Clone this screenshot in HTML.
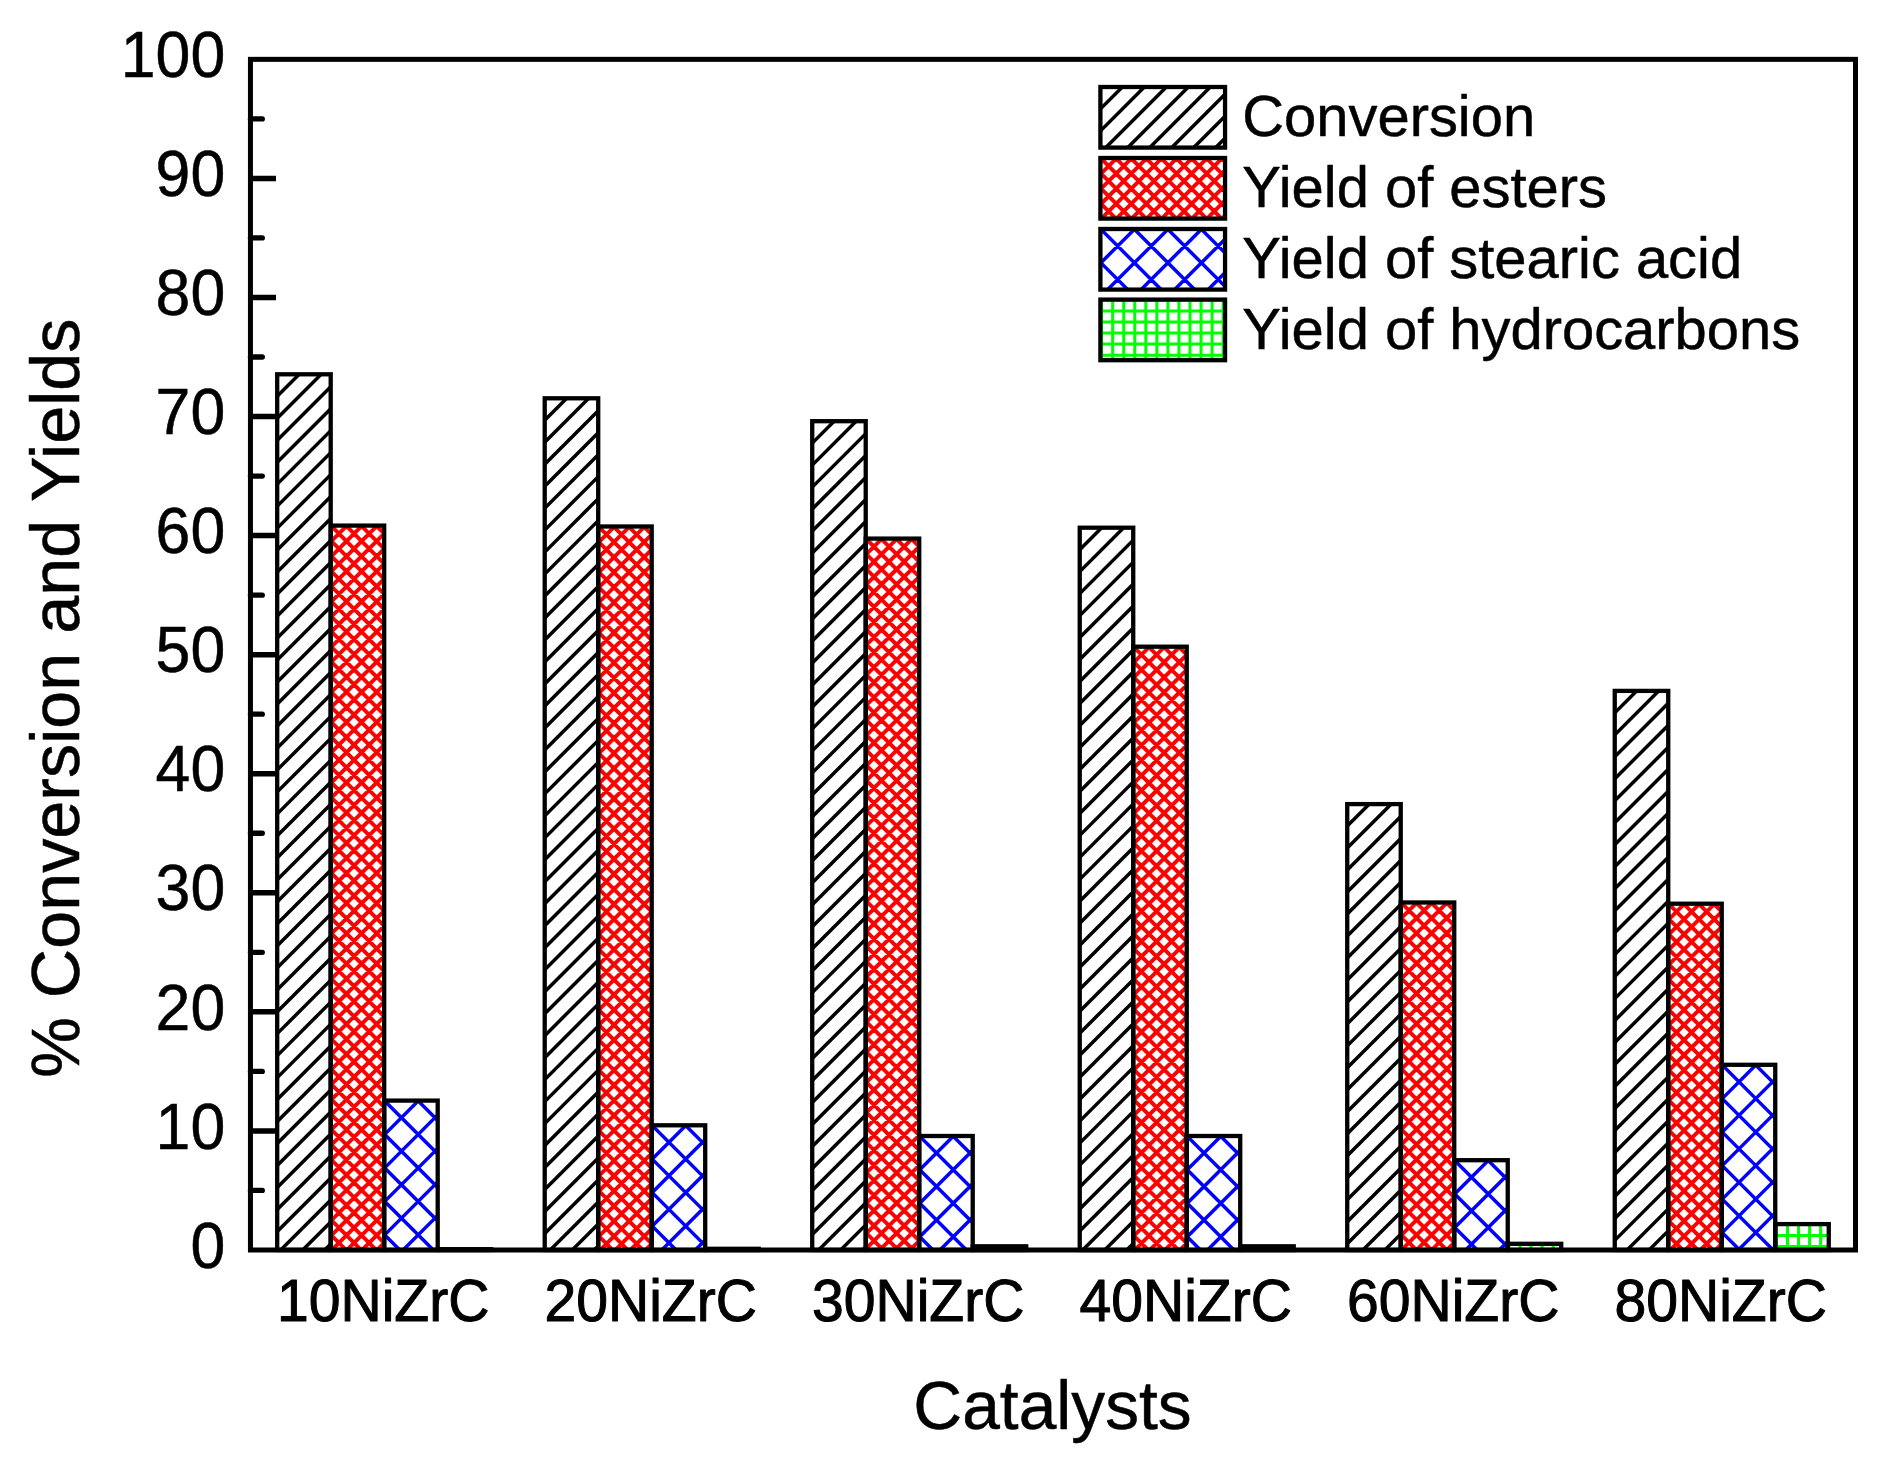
<!DOCTYPE html>
<html lang="en"><head><meta charset="utf-8"><title>Conversion and Yields</title>
<style>html,body{margin:0;padding:0;background:#fff}svg{display:block}</style></head>
<body>
<svg width="1888" height="1477" viewBox="0 0 1888 1477" font-family="'Liberation Sans', sans-serif" fill="#000">
<rect width="1888" height="1477" fill="#fff"/>
<style>text{stroke:#000;stroke-width:0.5px;stroke-linejoin:round}.b{stroke-width:1.0px}</style>
<g><clipPath id="c1"><rect x="277.20" y="374.30" width="53.50" height="875.70"/></clipPath><path clip-path="url(#c1)" d="M271.20 358.32L336.70 292.82M271.20 380.30L336.70 314.80M271.20 402.28L336.70 336.78M271.20 424.26L336.70 358.76M271.20 446.24L336.70 380.74M271.20 468.22L336.70 402.72M271.20 490.20L336.70 424.70M271.20 512.18L336.70 446.68M271.20 534.16L336.70 468.66M271.20 556.14L336.70 490.64M271.20 578.12L336.70 512.62M271.20 600.10L336.70 534.60M271.20 622.08L336.70 556.58M271.20 644.06L336.70 578.56M271.20 666.04L336.70 600.54M271.20 688.02L336.70 622.52M271.20 710.00L336.70 644.50M271.20 731.98L336.70 666.48M271.20 753.96L336.70 688.46M271.20 775.94L336.70 710.44M271.20 797.92L336.70 732.42M271.20 819.90L336.70 754.40M271.20 841.88L336.70 776.38M271.20 863.86L336.70 798.36M271.20 885.84L336.70 820.34M271.20 907.82L336.70 842.32M271.20 929.80L336.70 864.30M271.20 951.78L336.70 886.28M271.20 973.76L336.70 908.26M271.20 995.74L336.70 930.24M271.20 1017.72L336.70 952.22M271.20 1039.70L336.70 974.20M271.20 1061.68L336.70 996.18M271.20 1083.66L336.70 1018.16M271.20 1105.64L336.70 1040.14M271.20 1127.62L336.70 1062.12M271.20 1149.60L336.70 1084.10M271.20 1171.58L336.70 1106.08M271.20 1193.56L336.70 1128.06M271.20 1215.54L336.70 1150.04M271.20 1237.52L336.70 1172.02M271.20 1259.50L336.70 1194.00M271.20 1281.48L336.70 1215.98M271.20 1303.46L336.70 1237.96M271.20 1325.44L336.70 1259.94M271.20 1347.42L336.70 1281.92" stroke="#000" stroke-width="3.50" fill="none"/><clipPath id="c2"><rect x="330.70" y="525.60" width="53.50" height="724.40"/></clipPath><path clip-path="url(#c2)" d="M324.70 502.62L390.20 437.12M324.70 517.71L390.20 452.21M324.70 532.80L390.20 467.30M324.70 547.89L390.20 482.39M324.70 562.98L390.20 497.48M324.70 578.07L390.20 512.57M324.70 593.16L390.20 527.66M324.70 608.25L390.20 542.75M324.70 623.34L390.20 557.84M324.70 638.43L390.20 572.93M324.70 653.52L390.20 588.02M324.70 668.61L390.20 603.11M324.70 683.70L390.20 618.20M324.70 698.79L390.20 633.29M324.70 713.88L390.20 648.38M324.70 728.97L390.20 663.47M324.70 744.06L390.20 678.56M324.70 759.15L390.20 693.65M324.70 774.24L390.20 708.74M324.70 789.33L390.20 723.83M324.70 804.42L390.20 738.92M324.70 819.51L390.20 754.01M324.70 834.60L390.20 769.10M324.70 849.69L390.20 784.19M324.70 864.78L390.20 799.28M324.70 879.87L390.20 814.37M324.70 894.96L390.20 829.46M324.70 910.05L390.20 844.55M324.70 925.14L390.20 859.64M324.70 940.23L390.20 874.73M324.70 955.32L390.20 889.82M324.70 970.41L390.20 904.91M324.70 985.50L390.20 920.00M324.70 1000.59L390.20 935.09M324.70 1015.68L390.20 950.18M324.70 1030.77L390.20 965.27M324.70 1045.86L390.20 980.36M324.70 1060.95L390.20 995.45M324.70 1076.04L390.20 1010.54M324.70 1091.13L390.20 1025.63M324.70 1106.22L390.20 1040.72M324.70 1121.31L390.20 1055.81M324.70 1136.40L390.20 1070.90M324.70 1151.49L390.20 1085.99M324.70 1166.58L390.20 1101.08M324.70 1181.67L390.20 1116.17M324.70 1196.76L390.20 1131.26M324.70 1211.85L390.20 1146.35M324.70 1226.94L390.20 1161.44M324.70 1242.03L390.20 1176.53M324.70 1257.12L390.20 1191.62M324.70 1272.21L390.20 1206.71M324.70 1287.30L390.20 1221.80M324.70 1302.39L390.20 1236.89M324.70 1317.48L390.20 1251.98M324.70 1332.57L390.20 1267.07M324.70 1273.90L390.20 1339.40M324.70 1258.81L390.20 1324.31M324.70 1243.72L390.20 1309.22M324.70 1228.63L390.20 1294.13M324.70 1213.54L390.20 1279.04M324.70 1198.45L390.20 1263.95M324.70 1183.36L390.20 1248.86M324.70 1168.27L390.20 1233.77M324.70 1153.18L390.20 1218.68M324.70 1138.09L390.20 1203.59M324.70 1123.00L390.20 1188.50M324.70 1107.91L390.20 1173.41M324.70 1092.82L390.20 1158.32M324.70 1077.73L390.20 1143.23M324.70 1062.64L390.20 1128.14M324.70 1047.55L390.20 1113.05M324.70 1032.46L390.20 1097.96M324.70 1017.37L390.20 1082.87M324.70 1002.28L390.20 1067.78M324.70 987.19L390.20 1052.69M324.70 972.10L390.20 1037.60M324.70 957.01L390.20 1022.51M324.70 941.92L390.20 1007.42M324.70 926.83L390.20 992.33M324.70 911.74L390.20 977.24M324.70 896.65L390.20 962.15M324.70 881.56L390.20 947.06M324.70 866.47L390.20 931.97M324.70 851.38L390.20 916.88M324.70 836.29L390.20 901.79M324.70 821.20L390.20 886.70M324.70 806.11L390.20 871.61M324.70 791.02L390.20 856.52M324.70 775.93L390.20 841.43M324.70 760.84L390.20 826.34M324.70 745.75L390.20 811.25M324.70 730.66L390.20 796.16M324.70 715.57L390.20 781.07M324.70 700.48L390.20 765.98M324.70 685.39L390.20 750.89M324.70 670.30L390.20 735.80M324.70 655.21L390.20 720.71M324.70 640.12L390.20 705.62M324.70 625.03L390.20 690.53M324.70 609.94L390.20 675.44M324.70 594.85L390.20 660.35M324.70 579.76L390.20 645.26M324.70 564.67L390.20 630.17M324.70 549.58L390.20 615.08M324.70 534.49L390.20 599.99M324.70 519.40L390.20 584.90M324.70 504.31L390.20 569.81M324.70 489.22L390.20 554.72M324.70 474.13L390.20 539.63M324.70 459.04L390.20 524.54M324.70 443.95L390.20 509.45" stroke="#f00" stroke-width="3.90" fill="none"/><clipPath id="c3"><rect x="384.20" y="1100.60" width="53.50" height="149.40"/></clipPath><path clip-path="url(#c3)" d="M378.20 1040.40L443.71 974.90M378.20 1073.90L443.71 1008.40M378.20 1107.40L443.71 1041.90M378.20 1140.90L443.71 1075.40M378.20 1174.40L443.71 1108.90M378.20 1207.90L443.71 1142.40M378.20 1241.40L443.71 1175.90M378.20 1274.90L443.71 1209.40M378.20 1308.40L443.71 1242.90M378.20 1341.90L443.71 1276.40M378.20 1375.40L443.71 1309.90M378.20 1295.40L443.71 1360.90M378.20 1261.90L443.71 1327.40M378.20 1228.40L443.71 1293.90M378.20 1194.90L443.71 1260.40M378.20 1161.40L443.71 1226.90M378.20 1127.90L443.71 1193.40M378.20 1094.40L443.71 1159.90M378.20 1060.90L443.71 1126.40M378.20 1027.40L443.71 1092.90M378.20 993.90L443.71 1059.40" stroke="#00f" stroke-width="3.50" fill="none"/><clipPath id="c4"><rect x="437.71" y="1249.20" width="53.50" height="0.80"/></clipPath><path clip-path="url(#c4)" d="M438.91 1247.20V1252.00M449.96 1247.20V1252.00M461.01 1247.20V1252.00M472.06 1247.20V1252.00M483.11 1247.20V1252.00M494.16 1247.20V1252.00M435.71 1249.50H493.21" stroke="#0f0" stroke-width="3.00" fill="none"/><clipPath id="c5"><rect x="544.71" y="398.30" width="53.50" height="851.70"/></clipPath><path clip-path="url(#c5)" d="M538.71 382.32L604.21 316.82M538.71 404.30L604.21 338.80M538.71 426.28L604.21 360.78M538.71 448.26L604.21 382.76M538.71 470.24L604.21 404.74M538.71 492.22L604.21 426.72M538.71 514.20L604.21 448.70M538.71 536.18L604.21 470.68M538.71 558.16L604.21 492.66M538.71 580.14L604.21 514.64M538.71 602.12L604.21 536.62M538.71 624.10L604.21 558.60M538.71 646.08L604.21 580.58M538.71 668.06L604.21 602.56M538.71 690.04L604.21 624.54M538.71 712.02L604.21 646.52M538.71 734.00L604.21 668.50M538.71 755.98L604.21 690.48M538.71 777.96L604.21 712.46M538.71 799.94L604.21 734.44M538.71 821.92L604.21 756.42M538.71 843.90L604.21 778.40M538.71 865.88L604.21 800.38M538.71 887.86L604.21 822.36M538.71 909.84L604.21 844.34M538.71 931.82L604.21 866.32M538.71 953.80L604.21 888.30M538.71 975.78L604.21 910.28M538.71 997.76L604.21 932.26M538.71 1019.74L604.21 954.24M538.71 1041.72L604.21 976.22M538.71 1063.70L604.21 998.20M538.71 1085.68L604.21 1020.18M538.71 1107.66L604.21 1042.16M538.71 1129.64L604.21 1064.14M538.71 1151.62L604.21 1086.12M538.71 1173.60L604.21 1108.10M538.71 1195.58L604.21 1130.08M538.71 1217.56L604.21 1152.06M538.71 1239.54L604.21 1174.04M538.71 1261.52L604.21 1196.02M538.71 1283.50L604.21 1218.00M538.71 1305.48L604.21 1239.98M538.71 1327.46L604.21 1261.96M538.71 1349.44L604.21 1283.94" stroke="#000" stroke-width="3.50" fill="none"/><clipPath id="c6"><rect x="598.21" y="526.50" width="53.50" height="723.50"/></clipPath><path clip-path="url(#c6)" d="M592.21 503.52L657.71 438.02M592.21 518.61L657.71 453.11M592.21 533.70L657.71 468.20M592.21 548.79L657.71 483.29M592.21 563.88L657.71 498.38M592.21 578.97L657.71 513.47M592.21 594.06L657.71 528.56M592.21 609.15L657.71 543.65M592.21 624.24L657.71 558.74M592.21 639.33L657.71 573.83M592.21 654.42L657.71 588.92M592.21 669.51L657.71 604.01M592.21 684.60L657.71 619.10M592.21 699.69L657.71 634.19M592.21 714.78L657.71 649.28M592.21 729.87L657.71 664.37M592.21 744.96L657.71 679.46M592.21 760.05L657.71 694.55M592.21 775.14L657.71 709.64M592.21 790.23L657.71 724.73M592.21 805.32L657.71 739.82M592.21 820.41L657.71 754.91M592.21 835.50L657.71 770.00M592.21 850.59L657.71 785.09M592.21 865.68L657.71 800.18M592.21 880.77L657.71 815.27M592.21 895.86L657.71 830.36M592.21 910.95L657.71 845.45M592.21 926.04L657.71 860.54M592.21 941.13L657.71 875.63M592.21 956.22L657.71 890.72M592.21 971.31L657.71 905.81M592.21 986.40L657.71 920.90M592.21 1001.49L657.71 935.99M592.21 1016.58L657.71 951.08M592.21 1031.67L657.71 966.17M592.21 1046.76L657.71 981.26M592.21 1061.85L657.71 996.35M592.21 1076.94L657.71 1011.44M592.21 1092.03L657.71 1026.53M592.21 1107.12L657.71 1041.62M592.21 1122.21L657.71 1056.71M592.21 1137.30L657.71 1071.80M592.21 1152.39L657.71 1086.89M592.21 1167.48L657.71 1101.98M592.21 1182.57L657.71 1117.07M592.21 1197.66L657.71 1132.16M592.21 1212.75L657.71 1147.25M592.21 1227.84L657.71 1162.34M592.21 1242.93L657.71 1177.43M592.21 1258.02L657.71 1192.52M592.21 1273.11L657.71 1207.61M592.21 1288.20L657.71 1222.70M592.21 1303.29L657.71 1237.79M592.21 1318.38L657.71 1252.88M592.21 1333.47L657.71 1267.97M592.21 1259.71L657.71 1325.21M592.21 1244.62L657.71 1310.12M592.21 1229.53L657.71 1295.03M592.21 1214.44L657.71 1279.94M592.21 1199.35L657.71 1264.85M592.21 1184.26L657.71 1249.76M592.21 1169.17L657.71 1234.67M592.21 1154.08L657.71 1219.58M592.21 1138.99L657.71 1204.49M592.21 1123.90L657.71 1189.40M592.21 1108.81L657.71 1174.31M592.21 1093.72L657.71 1159.22M592.21 1078.63L657.71 1144.13M592.21 1063.54L657.71 1129.04M592.21 1048.45L657.71 1113.95M592.21 1033.36L657.71 1098.86M592.21 1018.27L657.71 1083.77M592.21 1003.18L657.71 1068.68M592.21 988.09L657.71 1053.59M592.21 973.00L657.71 1038.50M592.21 957.91L657.71 1023.41M592.21 942.82L657.71 1008.32M592.21 927.73L657.71 993.23M592.21 912.64L657.71 978.14M592.21 897.55L657.71 963.05M592.21 882.46L657.71 947.96M592.21 867.37L657.71 932.87M592.21 852.28L657.71 917.78M592.21 837.19L657.71 902.69M592.21 822.10L657.71 887.60M592.21 807.01L657.71 872.51M592.21 791.92L657.71 857.42M592.21 776.83L657.71 842.33M592.21 761.74L657.71 827.24M592.21 746.65L657.71 812.15M592.21 731.56L657.71 797.06M592.21 716.47L657.71 781.97M592.21 701.38L657.71 766.88M592.21 686.29L657.71 751.79M592.21 671.20L657.71 736.70M592.21 656.11L657.71 721.61M592.21 641.02L657.71 706.52M592.21 625.93L657.71 691.43M592.21 610.84L657.71 676.34M592.21 595.75L657.71 661.25M592.21 580.66L657.71 646.16M592.21 565.57L657.71 631.07M592.21 550.48L657.71 615.98M592.21 535.39L657.71 600.89M592.21 520.30L657.71 585.80M592.21 505.21L657.71 570.71M592.21 490.12L657.71 555.62M592.21 475.03L657.71 540.53M592.21 459.94L657.71 525.44M592.21 444.85L657.71 510.35" stroke="#f00" stroke-width="3.90" fill="none"/><clipPath id="c7"><rect x="651.71" y="1125.30" width="53.50" height="124.70"/></clipPath><path clip-path="url(#c7)" d="M645.71 1065.10L711.21 999.60M645.71 1098.60L711.21 1033.10M645.71 1132.10L711.21 1066.60M645.71 1165.60L711.21 1100.10M645.71 1199.10L711.21 1133.60M645.71 1232.60L711.21 1167.10M645.71 1266.10L711.21 1200.60M645.71 1299.60L711.21 1234.10M645.71 1333.10L711.21 1267.60M645.71 1366.60L711.21 1301.10M645.71 1286.60L711.21 1352.10M645.71 1253.10L711.21 1318.60M645.71 1219.60L711.21 1285.10M645.71 1186.10L711.21 1251.60M645.71 1152.60L711.21 1218.10M645.71 1119.10L711.21 1184.60M645.71 1085.60L711.21 1151.10M645.71 1052.10L711.21 1117.60M645.71 1018.60L711.21 1084.10" stroke="#00f" stroke-width="3.50" fill="none"/><clipPath id="c8"><rect x="705.21" y="1248.80" width="53.50" height="1.20"/></clipPath><path clip-path="url(#c8)" d="M706.41 1246.80V1252.00M717.46 1246.80V1252.00M728.51 1246.80V1252.00M739.56 1246.80V1252.00M750.61 1246.80V1252.00M761.66 1246.80V1252.00M703.21 1249.10H760.72" stroke="#0f0" stroke-width="3.00" fill="none"/><clipPath id="c9"><rect x="812.22" y="421.20" width="53.50" height="828.80"/></clipPath><path clip-path="url(#c9)" d="M806.22 405.22L871.72 339.72M806.22 427.20L871.72 361.70M806.22 449.18L871.72 383.68M806.22 471.16L871.72 405.66M806.22 493.14L871.72 427.64M806.22 515.12L871.72 449.62M806.22 537.10L871.72 471.60M806.22 559.08L871.72 493.58M806.22 581.06L871.72 515.56M806.22 603.04L871.72 537.54M806.22 625.02L871.72 559.52M806.22 647.00L871.72 581.50M806.22 668.98L871.72 603.48M806.22 690.96L871.72 625.46M806.22 712.94L871.72 647.44M806.22 734.92L871.72 669.42M806.22 756.90L871.72 691.40M806.22 778.88L871.72 713.38M806.22 800.86L871.72 735.36M806.22 822.84L871.72 757.34M806.22 844.82L871.72 779.32M806.22 866.80L871.72 801.30M806.22 888.78L871.72 823.28M806.22 910.76L871.72 845.26M806.22 932.74L871.72 867.24M806.22 954.72L871.72 889.22M806.22 976.70L871.72 911.20M806.22 998.68L871.72 933.18M806.22 1020.66L871.72 955.16M806.22 1042.64L871.72 977.14M806.22 1064.62L871.72 999.12M806.22 1086.60L871.72 1021.10M806.22 1108.58L871.72 1043.08M806.22 1130.56L871.72 1065.06M806.22 1152.54L871.72 1087.04M806.22 1174.52L871.72 1109.02M806.22 1196.50L871.72 1131.00M806.22 1218.48L871.72 1152.98M806.22 1240.46L871.72 1174.96M806.22 1262.44L871.72 1196.94M806.22 1284.42L871.72 1218.92M806.22 1306.40L871.72 1240.90M806.22 1328.38L871.72 1262.88M806.22 1350.36L871.72 1284.86" stroke="#000" stroke-width="3.50" fill="none"/><clipPath id="c10"><rect x="865.72" y="538.60" width="53.50" height="711.40"/></clipPath><path clip-path="url(#c10)" d="M859.72 515.62L925.22 450.12M859.72 530.71L925.22 465.21M859.72 545.80L925.22 480.30M859.72 560.89L925.22 495.39M859.72 575.98L925.22 510.48M859.72 591.07L925.22 525.57M859.72 606.16L925.22 540.66M859.72 621.25L925.22 555.75M859.72 636.34L925.22 570.84M859.72 651.43L925.22 585.93M859.72 666.52L925.22 601.02M859.72 681.61L925.22 616.11M859.72 696.70L925.22 631.20M859.72 711.79L925.22 646.29M859.72 726.88L925.22 661.38M859.72 741.97L925.22 676.47M859.72 757.06L925.22 691.56M859.72 772.15L925.22 706.65M859.72 787.24L925.22 721.74M859.72 802.33L925.22 736.83M859.72 817.42L925.22 751.92M859.72 832.51L925.22 767.01M859.72 847.60L925.22 782.10M859.72 862.69L925.22 797.19M859.72 877.78L925.22 812.28M859.72 892.87L925.22 827.37M859.72 907.96L925.22 842.46M859.72 923.05L925.22 857.55M859.72 938.14L925.22 872.64M859.72 953.23L925.22 887.73M859.72 968.32L925.22 902.82M859.72 983.41L925.22 917.91M859.72 998.50L925.22 933.00M859.72 1013.59L925.22 948.09M859.72 1028.68L925.22 963.18M859.72 1043.77L925.22 978.27M859.72 1058.86L925.22 993.36M859.72 1073.95L925.22 1008.45M859.72 1089.04L925.22 1023.54M859.72 1104.13L925.22 1038.63M859.72 1119.22L925.22 1053.72M859.72 1134.31L925.22 1068.81M859.72 1149.40L925.22 1083.90M859.72 1164.49L925.22 1098.99M859.72 1179.58L925.22 1114.08M859.72 1194.67L925.22 1129.17M859.72 1209.76L925.22 1144.26M859.72 1224.85L925.22 1159.35M859.72 1239.94L925.22 1174.44M859.72 1255.03L925.22 1189.53M859.72 1270.12L925.22 1204.62M859.72 1285.21L925.22 1219.71M859.72 1300.30L925.22 1234.80M859.72 1315.39L925.22 1249.89M859.72 1330.48L925.22 1264.98M859.72 1271.81L925.22 1337.31M859.72 1256.72L925.22 1322.22M859.72 1241.63L925.22 1307.13M859.72 1226.54L925.22 1292.04M859.72 1211.45L925.22 1276.95M859.72 1196.36L925.22 1261.86M859.72 1181.27L925.22 1246.77M859.72 1166.18L925.22 1231.68M859.72 1151.09L925.22 1216.59M859.72 1136.00L925.22 1201.50M859.72 1120.91L925.22 1186.41M859.72 1105.82L925.22 1171.32M859.72 1090.73L925.22 1156.23M859.72 1075.64L925.22 1141.14M859.72 1060.55L925.22 1126.05M859.72 1045.46L925.22 1110.96M859.72 1030.37L925.22 1095.87M859.72 1015.28L925.22 1080.78M859.72 1000.19L925.22 1065.69M859.72 985.10L925.22 1050.60M859.72 970.01L925.22 1035.51M859.72 954.92L925.22 1020.42M859.72 939.83L925.22 1005.33M859.72 924.74L925.22 990.24M859.72 909.65L925.22 975.15M859.72 894.56L925.22 960.06M859.72 879.47L925.22 944.97M859.72 864.38L925.22 929.88M859.72 849.29L925.22 914.79M859.72 834.20L925.22 899.70M859.72 819.11L925.22 884.61M859.72 804.02L925.22 869.52M859.72 788.93L925.22 854.43M859.72 773.84L925.22 839.34M859.72 758.75L925.22 824.25M859.72 743.66L925.22 809.16M859.72 728.57L925.22 794.07M859.72 713.48L925.22 778.98M859.72 698.39L925.22 763.89M859.72 683.30L925.22 748.80M859.72 668.21L925.22 733.71M859.72 653.12L925.22 718.62M859.72 638.03L925.22 703.53M859.72 622.94L925.22 688.44M859.72 607.85L925.22 673.35M859.72 592.76L925.22 658.26M859.72 577.67L925.22 643.17M859.72 562.58L925.22 628.08M859.72 547.49L925.22 612.99M859.72 532.40L925.22 597.90M859.72 517.31L925.22 582.81M859.72 502.22L925.22 567.72M859.72 487.13L925.22 552.63M859.72 472.04L925.22 537.54M859.72 456.95L925.22 522.45" stroke="#f00" stroke-width="3.90" fill="none"/><clipPath id="c11"><rect x="919.22" y="1136.00" width="53.50" height="114.00"/></clipPath><path clip-path="url(#c11)" d="M913.22 1075.80L978.72 1010.30M913.22 1109.30L978.72 1043.80M913.22 1142.80L978.72 1077.30M913.22 1176.30L978.72 1110.80M913.22 1209.80L978.72 1144.30M913.22 1243.30L978.72 1177.80M913.22 1276.80L978.72 1211.30M913.22 1310.30L978.72 1244.80M913.22 1343.80L978.72 1278.30M913.22 1297.30L978.72 1362.80M913.22 1263.80L978.72 1329.30M913.22 1230.30L978.72 1295.80M913.22 1196.80L978.72 1262.30M913.22 1163.30L978.72 1228.80M913.22 1129.80L978.72 1195.30M913.22 1096.30L978.72 1161.80M913.22 1062.80L978.72 1128.30M913.22 1029.30L978.72 1094.80" stroke="#00f" stroke-width="3.50" fill="none"/><clipPath id="c12"><rect x="972.72" y="1246.30" width="53.50" height="3.70"/></clipPath><path clip-path="url(#c12)" d="M973.92 1244.30V1252.00M984.97 1244.30V1252.00M996.02 1244.30V1252.00M1007.07 1244.30V1252.00M1018.12 1244.30V1252.00M1029.17 1244.30V1252.00M970.72 1246.60H1028.22" stroke="#0f0" stroke-width="3.00" fill="none"/><clipPath id="c13"><rect x="1079.73" y="527.70" width="53.50" height="722.30"/></clipPath><path clip-path="url(#c13)" d="M1073.73 511.72L1139.23 446.22M1073.73 533.70L1139.23 468.20M1073.73 555.68L1139.23 490.18M1073.73 577.66L1139.23 512.16M1073.73 599.64L1139.23 534.14M1073.73 621.62L1139.23 556.12M1073.73 643.60L1139.23 578.10M1073.73 665.58L1139.23 600.08M1073.73 687.56L1139.23 622.06M1073.73 709.54L1139.23 644.04M1073.73 731.52L1139.23 666.02M1073.73 753.50L1139.23 688.00M1073.73 775.48L1139.23 709.98M1073.73 797.46L1139.23 731.96M1073.73 819.44L1139.23 753.94M1073.73 841.42L1139.23 775.92M1073.73 863.40L1139.23 797.90M1073.73 885.38L1139.23 819.88M1073.73 907.36L1139.23 841.86M1073.73 929.34L1139.23 863.84M1073.73 951.32L1139.23 885.82M1073.73 973.30L1139.23 907.80M1073.73 995.28L1139.23 929.78M1073.73 1017.26L1139.23 951.76M1073.73 1039.24L1139.23 973.74M1073.73 1061.22L1139.23 995.72M1073.73 1083.20L1139.23 1017.70M1073.73 1105.18L1139.23 1039.68M1073.73 1127.16L1139.23 1061.66M1073.73 1149.14L1139.23 1083.64M1073.73 1171.12L1139.23 1105.62M1073.73 1193.10L1139.23 1127.60M1073.73 1215.08L1139.23 1149.58M1073.73 1237.06L1139.23 1171.56M1073.73 1259.04L1139.23 1193.54M1073.73 1281.02L1139.23 1215.52M1073.73 1303.00L1139.23 1237.50M1073.73 1324.98L1139.23 1259.48M1073.73 1346.96L1139.23 1281.46" stroke="#000" stroke-width="3.50" fill="none"/><clipPath id="c14"><rect x="1133.23" y="646.70" width="53.50" height="603.30"/></clipPath><path clip-path="url(#c14)" d="M1127.23 623.72L1192.73 558.22M1127.23 638.81L1192.73 573.31M1127.23 653.90L1192.73 588.40M1127.23 668.99L1192.73 603.49M1127.23 684.08L1192.73 618.58M1127.23 699.17L1192.73 633.67M1127.23 714.26L1192.73 648.76M1127.23 729.35L1192.73 663.85M1127.23 744.44L1192.73 678.94M1127.23 759.53L1192.73 694.03M1127.23 774.62L1192.73 709.12M1127.23 789.71L1192.73 724.21M1127.23 804.80L1192.73 739.30M1127.23 819.89L1192.73 754.39M1127.23 834.98L1192.73 769.48M1127.23 850.07L1192.73 784.57M1127.23 865.16L1192.73 799.66M1127.23 880.25L1192.73 814.75M1127.23 895.34L1192.73 829.84M1127.23 910.43L1192.73 844.93M1127.23 925.52L1192.73 860.02M1127.23 940.61L1192.73 875.11M1127.23 955.70L1192.73 890.20M1127.23 970.79L1192.73 905.29M1127.23 985.88L1192.73 920.38M1127.23 1000.97L1192.73 935.47M1127.23 1016.06L1192.73 950.56M1127.23 1031.15L1192.73 965.65M1127.23 1046.24L1192.73 980.74M1127.23 1061.33L1192.73 995.83M1127.23 1076.42L1192.73 1010.92M1127.23 1091.51L1192.73 1026.01M1127.23 1106.60L1192.73 1041.10M1127.23 1121.69L1192.73 1056.19M1127.23 1136.78L1192.73 1071.28M1127.23 1151.87L1192.73 1086.37M1127.23 1166.96L1192.73 1101.46M1127.23 1182.05L1192.73 1116.55M1127.23 1197.14L1192.73 1131.64M1127.23 1212.23L1192.73 1146.73M1127.23 1227.32L1192.73 1161.82M1127.23 1242.41L1192.73 1176.91M1127.23 1257.50L1192.73 1192.00M1127.23 1272.59L1192.73 1207.09M1127.23 1287.68L1192.73 1222.18M1127.23 1302.77L1192.73 1237.27M1127.23 1317.86L1192.73 1252.36M1127.23 1332.95L1192.73 1267.45M1127.23 1259.19L1192.73 1324.69M1127.23 1244.10L1192.73 1309.60M1127.23 1229.01L1192.73 1294.51M1127.23 1213.92L1192.73 1279.42M1127.23 1198.83L1192.73 1264.33M1127.23 1183.74L1192.73 1249.24M1127.23 1168.65L1192.73 1234.15M1127.23 1153.56L1192.73 1219.06M1127.23 1138.47L1192.73 1203.97M1127.23 1123.38L1192.73 1188.88M1127.23 1108.29L1192.73 1173.79M1127.23 1093.20L1192.73 1158.70M1127.23 1078.11L1192.73 1143.61M1127.23 1063.02L1192.73 1128.52M1127.23 1047.93L1192.73 1113.43M1127.23 1032.84L1192.73 1098.34M1127.23 1017.75L1192.73 1083.25M1127.23 1002.66L1192.73 1068.16M1127.23 987.57L1192.73 1053.07M1127.23 972.48L1192.73 1037.98M1127.23 957.39L1192.73 1022.89M1127.23 942.30L1192.73 1007.80M1127.23 927.21L1192.73 992.71M1127.23 912.12L1192.73 977.62M1127.23 897.03L1192.73 962.53M1127.23 881.94L1192.73 947.44M1127.23 866.85L1192.73 932.35M1127.23 851.76L1192.73 917.26M1127.23 836.67L1192.73 902.17M1127.23 821.58L1192.73 887.08M1127.23 806.49L1192.73 871.99M1127.23 791.40L1192.73 856.90M1127.23 776.31L1192.73 841.81M1127.23 761.22L1192.73 826.72M1127.23 746.13L1192.73 811.63M1127.23 731.04L1192.73 796.54M1127.23 715.95L1192.73 781.45M1127.23 700.86L1192.73 766.36M1127.23 685.77L1192.73 751.27M1127.23 670.68L1192.73 736.18M1127.23 655.59L1192.73 721.09M1127.23 640.50L1192.73 706.00M1127.23 625.41L1192.73 690.91M1127.23 610.32L1192.73 675.82M1127.23 595.23L1192.73 660.73M1127.23 580.14L1192.73 645.64M1127.23 565.05L1192.73 630.55" stroke="#f00" stroke-width="3.90" fill="none"/><clipPath id="c15"><rect x="1186.73" y="1136.00" width="53.50" height="114.00"/></clipPath><path clip-path="url(#c15)" d="M1180.73 1075.80L1246.23 1010.30M1180.73 1109.30L1246.23 1043.80M1180.73 1142.80L1246.23 1077.30M1180.73 1176.30L1246.23 1110.80M1180.73 1209.80L1246.23 1144.30M1180.73 1243.30L1246.23 1177.80M1180.73 1276.80L1246.23 1211.30M1180.73 1310.30L1246.23 1244.80M1180.73 1343.80L1246.23 1278.30M1180.73 1297.30L1246.23 1362.80M1180.73 1263.80L1246.23 1329.30M1180.73 1230.30L1246.23 1295.80M1180.73 1196.80L1246.23 1262.30M1180.73 1163.30L1246.23 1228.80M1180.73 1129.80L1246.23 1195.30M1180.73 1096.30L1246.23 1161.80M1180.73 1062.80L1246.23 1128.30M1180.73 1029.30L1246.23 1094.80" stroke="#00f" stroke-width="3.50" fill="none"/><clipPath id="c16"><rect x="1240.23" y="1246.30" width="53.50" height="3.70"/></clipPath><path clip-path="url(#c16)" d="M1241.43 1244.30V1252.00M1252.48 1244.30V1252.00M1263.53 1244.30V1252.00M1274.58 1244.30V1252.00M1285.63 1244.30V1252.00M1296.68 1244.30V1252.00M1238.23 1246.60H1295.73" stroke="#0f0" stroke-width="3.00" fill="none"/><clipPath id="c17"><rect x="1347.23" y="804.10" width="53.50" height="445.90"/></clipPath><path clip-path="url(#c17)" d="M1341.23 788.12L1406.74 722.62M1341.23 810.10L1406.74 744.60M1341.23 832.08L1406.74 766.58M1341.23 854.06L1406.74 788.56M1341.23 876.04L1406.74 810.54M1341.23 898.02L1406.74 832.52M1341.23 920.00L1406.74 854.50M1341.23 941.98L1406.74 876.48M1341.23 963.96L1406.74 898.46M1341.23 985.94L1406.74 920.44M1341.23 1007.92L1406.74 942.42M1341.23 1029.90L1406.74 964.40M1341.23 1051.88L1406.74 986.38M1341.23 1073.86L1406.74 1008.36M1341.23 1095.84L1406.74 1030.34M1341.23 1117.82L1406.74 1052.32M1341.23 1139.80L1406.74 1074.30M1341.23 1161.78L1406.74 1096.28M1341.23 1183.76L1406.74 1118.26M1341.23 1205.74L1406.74 1140.24M1341.23 1227.72L1406.74 1162.22M1341.23 1249.70L1406.74 1184.20M1341.23 1271.68L1406.74 1206.18M1341.23 1293.66L1406.74 1228.16M1341.23 1315.64L1406.74 1250.14M1341.23 1337.62L1406.74 1272.12" stroke="#000" stroke-width="3.50" fill="none"/><clipPath id="c18"><rect x="1400.74" y="902.50" width="53.50" height="347.50"/></clipPath><path clip-path="url(#c18)" d="M1394.74 879.52L1460.24 814.02M1394.74 894.61L1460.24 829.11M1394.74 909.70L1460.24 844.20M1394.74 924.79L1460.24 859.29M1394.74 939.88L1460.24 874.38M1394.74 954.97L1460.24 889.47M1394.74 970.06L1460.24 904.56M1394.74 985.15L1460.24 919.65M1394.74 1000.24L1460.24 934.74M1394.74 1015.33L1460.24 949.83M1394.74 1030.42L1460.24 964.92M1394.74 1045.51L1460.24 980.01M1394.74 1060.60L1460.24 995.10M1394.74 1075.69L1460.24 1010.19M1394.74 1090.78L1460.24 1025.28M1394.74 1105.87L1460.24 1040.37M1394.74 1120.96L1460.24 1055.46M1394.74 1136.05L1460.24 1070.55M1394.74 1151.14L1460.24 1085.64M1394.74 1166.23L1460.24 1100.73M1394.74 1181.32L1460.24 1115.82M1394.74 1196.41L1460.24 1130.91M1394.74 1211.50L1460.24 1146.00M1394.74 1226.59L1460.24 1161.09M1394.74 1241.68L1460.24 1176.18M1394.74 1256.77L1460.24 1191.27M1394.74 1271.86L1460.24 1206.36M1394.74 1286.95L1460.24 1221.45M1394.74 1302.04L1460.24 1236.54M1394.74 1317.13L1460.24 1251.63M1394.74 1332.22L1460.24 1266.72M1394.74 1273.55L1460.24 1339.05M1394.74 1258.46L1460.24 1323.96M1394.74 1243.37L1460.24 1308.87M1394.74 1228.28L1460.24 1293.78M1394.74 1213.19L1460.24 1278.69M1394.74 1198.10L1460.24 1263.60M1394.74 1183.01L1460.24 1248.51M1394.74 1167.92L1460.24 1233.42M1394.74 1152.83L1460.24 1218.33M1394.74 1137.74L1460.24 1203.24M1394.74 1122.65L1460.24 1188.15M1394.74 1107.56L1460.24 1173.06M1394.74 1092.47L1460.24 1157.97M1394.74 1077.38L1460.24 1142.88M1394.74 1062.29L1460.24 1127.79M1394.74 1047.20L1460.24 1112.70M1394.74 1032.11L1460.24 1097.61M1394.74 1017.02L1460.24 1082.52M1394.74 1001.93L1460.24 1067.43M1394.74 986.84L1460.24 1052.34M1394.74 971.75L1460.24 1037.25M1394.74 956.66L1460.24 1022.16M1394.74 941.57L1460.24 1007.07M1394.74 926.48L1460.24 991.98M1394.74 911.39L1460.24 976.89M1394.74 896.30L1460.24 961.80M1394.74 881.21L1460.24 946.71M1394.74 866.12L1460.24 931.62M1394.74 851.03L1460.24 916.53M1394.74 835.94L1460.24 901.44M1394.74 820.85L1460.24 886.35" stroke="#f00" stroke-width="3.90" fill="none"/><clipPath id="c19"><rect x="1454.24" y="1160.20" width="53.50" height="89.80"/></clipPath><path clip-path="url(#c19)" d="M1448.24 1100.00L1513.74 1034.50M1448.24 1133.50L1513.74 1068.00M1448.24 1167.00L1513.74 1101.50M1448.24 1200.50L1513.74 1135.00M1448.24 1234.00L1513.74 1168.50M1448.24 1267.50L1513.74 1202.00M1448.24 1301.00L1513.74 1235.50M1448.24 1334.50L1513.74 1269.00M1448.24 1368.00L1513.74 1302.50M1448.24 1288.00L1513.74 1353.50M1448.24 1254.50L1513.74 1320.00M1448.24 1221.00L1513.74 1286.50M1448.24 1187.50L1513.74 1253.00M1448.24 1154.00L1513.74 1219.50M1448.24 1120.50L1513.74 1186.00M1448.24 1087.00L1513.74 1152.50M1448.24 1053.50L1513.74 1119.00" stroke="#00f" stroke-width="3.50" fill="none"/><clipPath id="c20"><rect x="1507.74" y="1243.80" width="53.50" height="6.20"/></clipPath><path clip-path="url(#c20)" d="M1508.94 1241.80V1252.00M1519.99 1241.80V1252.00M1531.04 1241.80V1252.00M1542.09 1241.80V1252.00M1553.14 1241.80V1252.00M1564.19 1241.80V1252.00M1505.74 1244.10H1563.24" stroke="#0f0" stroke-width="3.00" fill="none"/><clipPath id="c21"><rect x="1614.74" y="690.90" width="53.50" height="559.10"/></clipPath><path clip-path="url(#c21)" d="M1608.74 674.92L1674.24 609.42M1608.74 696.90L1674.24 631.40M1608.74 718.88L1674.24 653.38M1608.74 740.86L1674.24 675.36M1608.74 762.84L1674.24 697.34M1608.74 784.82L1674.24 719.32M1608.74 806.80L1674.24 741.30M1608.74 828.78L1674.24 763.28M1608.74 850.76L1674.24 785.26M1608.74 872.74L1674.24 807.24M1608.74 894.72L1674.24 829.22M1608.74 916.70L1674.24 851.20M1608.74 938.68L1674.24 873.18M1608.74 960.66L1674.24 895.16M1608.74 982.64L1674.24 917.14M1608.74 1004.62L1674.24 939.12M1608.74 1026.60L1674.24 961.10M1608.74 1048.58L1674.24 983.08M1608.74 1070.56L1674.24 1005.06M1608.74 1092.54L1674.24 1027.04M1608.74 1114.52L1674.24 1049.02M1608.74 1136.50L1674.24 1071.00M1608.74 1158.48L1674.24 1092.98M1608.74 1180.46L1674.24 1114.96M1608.74 1202.44L1674.24 1136.94M1608.74 1224.42L1674.24 1158.92M1608.74 1246.40L1674.24 1180.90M1608.74 1268.38L1674.24 1202.88M1608.74 1290.36L1674.24 1224.86M1608.74 1312.34L1674.24 1246.84M1608.74 1334.32L1674.24 1268.82" stroke="#000" stroke-width="3.50" fill="none"/><clipPath id="c22"><rect x="1668.24" y="903.70" width="53.50" height="346.30"/></clipPath><path clip-path="url(#c22)" d="M1662.24 880.72L1727.75 815.22M1662.24 895.81L1727.75 830.31M1662.24 910.90L1727.75 845.40M1662.24 925.99L1727.75 860.49M1662.24 941.08L1727.75 875.58M1662.24 956.17L1727.75 890.67M1662.24 971.26L1727.75 905.76M1662.24 986.35L1727.75 920.85M1662.24 1001.44L1727.75 935.94M1662.24 1016.53L1727.75 951.03M1662.24 1031.62L1727.75 966.12M1662.24 1046.71L1727.75 981.21M1662.24 1061.80L1727.75 996.30M1662.24 1076.89L1727.75 1011.39M1662.24 1091.98L1727.75 1026.48M1662.24 1107.07L1727.75 1041.57M1662.24 1122.16L1727.75 1056.66M1662.24 1137.25L1727.75 1071.75M1662.24 1152.34L1727.75 1086.84M1662.24 1167.43L1727.75 1101.93M1662.24 1182.52L1727.75 1117.02M1662.24 1197.61L1727.75 1132.11M1662.24 1212.70L1727.75 1147.20M1662.24 1227.79L1727.75 1162.29M1662.24 1242.88L1727.75 1177.38M1662.24 1257.97L1727.75 1192.47M1662.24 1273.06L1727.75 1207.56M1662.24 1288.15L1727.75 1222.65M1662.24 1303.24L1727.75 1237.74M1662.24 1318.33L1727.75 1252.83M1662.24 1333.42L1727.75 1267.92M1662.24 1259.66L1727.75 1325.16M1662.24 1244.57L1727.75 1310.07M1662.24 1229.48L1727.75 1294.98M1662.24 1214.39L1727.75 1279.89M1662.24 1199.30L1727.75 1264.80M1662.24 1184.21L1727.75 1249.71M1662.24 1169.12L1727.75 1234.62M1662.24 1154.03L1727.75 1219.53M1662.24 1138.94L1727.75 1204.44M1662.24 1123.85L1727.75 1189.35M1662.24 1108.76L1727.75 1174.26M1662.24 1093.67L1727.75 1159.17M1662.24 1078.58L1727.75 1144.08M1662.24 1063.49L1727.75 1128.99M1662.24 1048.40L1727.75 1113.90M1662.24 1033.31L1727.75 1098.81M1662.24 1018.22L1727.75 1083.72M1662.24 1003.13L1727.75 1068.63M1662.24 988.04L1727.75 1053.54M1662.24 972.95L1727.75 1038.45M1662.24 957.86L1727.75 1023.36M1662.24 942.77L1727.75 1008.27M1662.24 927.68L1727.75 993.18M1662.24 912.59L1727.75 978.09M1662.24 897.50L1727.75 963.00M1662.24 882.41L1727.75 947.91M1662.24 867.32L1727.75 932.82M1662.24 852.23L1727.75 917.73M1662.24 837.14L1727.75 902.64M1662.24 822.05L1727.75 887.55" stroke="#f00" stroke-width="3.90" fill="none"/><clipPath id="c23"><rect x="1721.75" y="1064.80" width="53.50" height="185.20"/></clipPath><path clip-path="url(#c23)" d="M1715.75 1004.60L1781.25 939.10M1715.75 1038.10L1781.25 972.60M1715.75 1071.60L1781.25 1006.10M1715.75 1105.10L1781.25 1039.60M1715.75 1138.60L1781.25 1073.10M1715.75 1172.10L1781.25 1106.60M1715.75 1205.60L1781.25 1140.10M1715.75 1239.10L1781.25 1173.60M1715.75 1272.60L1781.25 1207.10M1715.75 1306.10L1781.25 1240.60M1715.75 1339.60L1781.25 1274.10M1715.75 1373.10L1781.25 1307.60M1715.75 1293.10L1781.25 1358.60M1715.75 1259.60L1781.25 1325.10M1715.75 1226.10L1781.25 1291.60M1715.75 1192.60L1781.25 1258.10M1715.75 1159.10L1781.25 1224.60M1715.75 1125.60L1781.25 1191.10M1715.75 1092.10L1781.25 1157.60M1715.75 1058.60L1781.25 1124.10M1715.75 1025.10L1781.25 1090.60M1715.75 991.60L1781.25 1057.10M1715.75 958.10L1781.25 1023.60" stroke="#00f" stroke-width="3.50" fill="none"/><clipPath id="c24"><rect x="1775.25" y="1224.10" width="53.50" height="25.90"/></clipPath><path clip-path="url(#c24)" d="M1776.45 1222.10V1252.00M1787.50 1222.10V1252.00M1798.55 1222.10V1252.00M1809.60 1222.10V1252.00M1820.65 1222.10V1252.00M1831.70 1222.10V1252.00M1773.25 1224.40H1830.75M1773.25 1235.45H1830.75M1773.25 1246.50H1830.75" stroke="#0f0" stroke-width="3.00" fill="none"/></g>
<g fill="none" stroke="#000" stroke-width="4.30"><rect x="277.20" y="374.30" width="53.50" height="875.70"/><rect x="330.70" y="525.60" width="53.50" height="724.40"/><rect x="384.20" y="1100.60" width="53.50" height="149.40"/><rect x="437.71" y="1249.20" width="53.50" height="0.80"/><rect x="544.71" y="398.30" width="53.50" height="851.70"/><rect x="598.21" y="526.50" width="53.50" height="723.50"/><rect x="651.71" y="1125.30" width="53.50" height="124.70"/><rect x="705.21" y="1248.80" width="53.50" height="1.20"/><rect x="812.22" y="421.20" width="53.50" height="828.80"/><rect x="865.72" y="538.60" width="53.50" height="711.40"/><rect x="919.22" y="1136.00" width="53.50" height="114.00"/><rect x="972.72" y="1246.30" width="53.50" height="3.70"/><rect x="1079.73" y="527.70" width="53.50" height="722.30"/><rect x="1133.23" y="646.70" width="53.50" height="603.30"/><rect x="1186.73" y="1136.00" width="53.50" height="114.00"/><rect x="1240.23" y="1246.30" width="53.50" height="3.70"/><rect x="1347.23" y="804.10" width="53.50" height="445.90"/><rect x="1400.74" y="902.50" width="53.50" height="347.50"/><rect x="1454.24" y="1160.20" width="53.50" height="89.80"/><rect x="1507.74" y="1243.80" width="53.50" height="6.20"/><rect x="1614.74" y="690.90" width="53.50" height="559.10"/><rect x="1668.24" y="903.70" width="53.50" height="346.30"/><rect x="1721.75" y="1064.80" width="53.50" height="185.20"/><rect x="1775.25" y="1224.10" width="53.50" height="25.90"/></g>
<clipPath id="c25"><rect x="1100.40" y="87.00" width="124.65" height="60.60"/></clipPath><path clip-path="url(#c25)" d="M1094.40 71.02L1231.05 -65.63M1094.40 93.00L1231.05 -43.65M1094.40 114.98L1231.05 -21.67M1094.40 136.96L1231.05 0.31M1094.40 158.94L1231.05 22.29M1094.40 180.92L1231.05 44.27M1094.40 202.90L1231.05 66.25M1094.40 224.88L1231.05 88.23M1094.40 246.86L1231.05 110.21M1094.40 268.84L1231.05 132.19M1094.40 290.82L1231.05 154.17M1094.40 312.80L1231.05 176.15" stroke="#000" stroke-width="3.50" fill="none"/>
<rect x="1100.40" y="87.00" width="124.65" height="60.60" fill="none" stroke="#000" stroke-width="4.3"/>
<text x="1242.3" y="136.1" font-size="57.9">Conversion</text>
<clipPath id="c26"><rect x="1100.40" y="158.00" width="124.65" height="60.60"/></clipPath><path clip-path="url(#c26)" d="M1094.40 135.02L1231.05 -1.63M1094.40 150.11L1231.05 13.46M1094.40 165.20L1231.05 28.55M1094.40 180.29L1231.05 43.64M1094.40 195.38L1231.05 58.73M1094.40 210.47L1231.05 73.82M1094.40 225.56L1231.05 88.91M1094.40 240.65L1231.05 104.00M1094.40 255.74L1231.05 119.09M1094.40 270.83L1231.05 134.18M1094.40 285.92L1231.05 149.27M1094.40 301.01L1231.05 164.36M1094.40 316.10L1231.05 179.45M1094.40 331.19L1231.05 194.54M1094.40 346.28L1231.05 209.63M1094.40 361.37L1231.05 224.72M1094.40 376.46L1231.05 239.81M1094.40 242.34L1231.05 378.99M1094.40 227.25L1231.05 363.90M1094.40 212.16L1231.05 348.81M1094.40 197.07L1231.05 333.72M1094.40 181.98L1231.05 318.63M1094.40 166.89L1231.05 303.54M1094.40 151.80L1231.05 288.45M1094.40 136.71L1231.05 273.36M1094.40 121.62L1231.05 258.27M1094.40 106.53L1231.05 243.18M1094.40 91.44L1231.05 228.09M1094.40 76.35L1231.05 213.00M1094.40 61.26L1231.05 197.91M1094.40 46.17L1231.05 182.82M1094.40 31.08L1231.05 167.73M1094.40 15.99L1231.05 152.64M1094.40 0.90L1231.05 137.55" stroke="#f00" stroke-width="3.90" fill="none"/>
<rect x="1100.40" y="158.00" width="124.65" height="60.60" fill="none" stroke="#000" stroke-width="4.3"/>
<text x="1242.3" y="207.3" font-size="57.9">Yield of esters</text>
<clipPath id="c27"><rect x="1100.40" y="229.00" width="124.65" height="60.60"/></clipPath><path clip-path="url(#c27)" d="M1094.40 168.80L1231.05 32.15M1094.40 202.30L1231.05 65.65M1094.40 235.80L1231.05 99.15M1094.40 269.30L1231.05 132.65M1094.40 302.80L1231.05 166.15M1094.40 336.30L1231.05 199.65M1094.40 369.80L1231.05 233.15M1094.40 403.30L1231.05 266.65M1094.40 436.80L1231.05 300.15M1094.40 470.30L1231.05 333.65M1094.40 323.30L1231.05 459.95M1094.40 289.80L1231.05 426.45M1094.40 256.30L1231.05 392.95M1094.40 222.80L1231.05 359.45M1094.40 189.30L1231.05 325.95M1094.40 155.80L1231.05 292.45M1094.40 122.30L1231.05 258.95M1094.40 88.80L1231.05 225.45M1094.40 55.30L1231.05 191.95" stroke="#00f" stroke-width="3.50" fill="none"/>
<rect x="1100.40" y="229.00" width="124.65" height="60.60" fill="none" stroke="#000" stroke-width="4.3"/>
<text x="1242.3" y="278.2" font-size="57.9">Yield of stearic acid</text>
<clipPath id="c28"><rect x="1100.40" y="299.60" width="124.65" height="60.60"/></clipPath><path clip-path="url(#c28)" d="M1101.60 297.60V362.20M1112.65 297.60V362.20M1123.70 297.60V362.20M1134.75 297.60V362.20M1145.80 297.60V362.20M1156.85 297.60V362.20M1167.90 297.60V362.20M1178.95 297.60V362.20M1190.00 297.60V362.20M1201.05 297.60V362.20M1212.10 297.60V362.20M1223.15 297.60V362.20M1098.40 299.90H1227.05M1098.40 310.95H1227.05M1098.40 322.00H1227.05M1098.40 333.05H1227.05M1098.40 344.10H1227.05M1098.40 355.15H1227.05" stroke="#0f0" stroke-width="3.00" fill="none"/>
<rect x="1100.40" y="299.60" width="124.65" height="60.60" fill="none" stroke="#000" stroke-width="4.3"/>
<text x="1242.3" y="349.0" font-size="57.9">Yield of hydrocarbons</text>
<rect x="250.45" y="59.35" width="1605.05" height="1190.65" fill="none" stroke="#000" stroke-width="5.0"/>
<path d="M250.45 1130.93H276.00M250.45 1011.87H276.00M250.45 892.80H276.00M250.45 773.74H276.00M250.45 654.67H276.00M250.45 535.61H276.00M250.45 416.54H276.00M250.45 297.48H276.00M250.45 178.41H276.00" stroke="#000" stroke-width="5.5" fill="none"/>
<path d="M250.45 1190.47H262.30M250.45 1071.40H262.30M250.45 952.34H262.30M250.45 833.27H262.30M250.45 714.21H262.30M250.45 595.14H262.30M250.45 476.08H262.30M250.45 357.01H262.30M250.45 237.95H262.30M250.45 118.88H262.30" stroke="#000" stroke-width="5.3" stroke-linecap="round" fill="none"/>
<text transform="translate(225.2 1267.6) scale(1 1.041)" font-size="62.6" text-anchor="end">0</text>
<text transform="translate(225.2 1148.5) scale(1 1.041)" font-size="62.6" text-anchor="end">10</text>
<text transform="translate(225.2 1029.5) scale(1 1.041)" font-size="62.6" text-anchor="end">20</text>
<text transform="translate(225.2 910.4) scale(1 1.041)" font-size="62.6" text-anchor="end">30</text>
<text transform="translate(225.2 791.3) scale(1 1.041)" font-size="62.6" text-anchor="end">40</text>
<text transform="translate(225.2 672.3) scale(1 1.041)" font-size="62.6" text-anchor="end">50</text>
<text transform="translate(225.2 553.2) scale(1 1.041)" font-size="62.6" text-anchor="end">60</text>
<text transform="translate(225.2 434.1) scale(1 1.041)" font-size="62.6" text-anchor="end">70</text>
<text transform="translate(225.2 315.1) scale(1 1.041)" font-size="62.6" text-anchor="end">80</text>
<text transform="translate(225.2 196.0) scale(1 1.041)" font-size="62.6" text-anchor="end">90</text>
<text transform="translate(225.2 76.9) scale(1 1.041)" font-size="62.6" text-anchor="end">100</text>
<text transform="translate(383.2 1321) scale(1 1.035)" class="b" font-size="57.1" text-anchor="middle">10NiZrC</text>
<text transform="translate(650.7 1321) scale(1 1.035)" class="b" font-size="57.1" text-anchor="middle">20NiZrC</text>
<text transform="translate(918.2 1321) scale(1 1.035)" class="b" font-size="57.1" text-anchor="middle">30NiZrC</text>
<text transform="translate(1185.7 1321) scale(1 1.035)" class="b" font-size="57.1" text-anchor="middle">40NiZrC</text>
<text transform="translate(1453.2 1321) scale(1 1.035)" class="b" font-size="57.1" text-anchor="middle">60NiZrC</text>
<text transform="translate(1720.7 1321) scale(1 1.035)" class="b" font-size="57.1" text-anchor="middle">80NiZrC</text>
<text transform="translate(1052.5 1429.0) scale(1 1.025)" font-size="67.7" text-anchor="middle">Catalysts</text>
<text transform="translate(79.05 698.2) rotate(-90)" font-size="68.3" text-anchor="middle">% Conversion and Yields</text>
</svg>
</body></html>
